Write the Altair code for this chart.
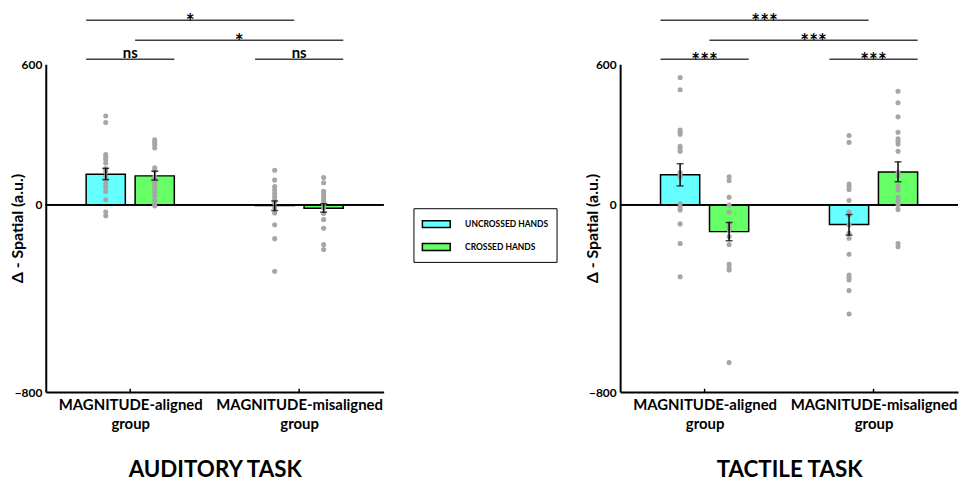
import altair as alt
import pandas as pd

# ---------------- data ----------------
GROUPS = ["MAGNITUDE-aligned group", "MAGNITUDE-misaligned group"]
CONDITIONS = ["UNCROSSED HANDS", "CROSSED HANDS"]
COLORS = ["#66FFFF", "#66FF66"]
TASKS = ["AUDITORY TASK", "TACTILE TASK"]
Y_TITLE = "Δ - Spatial (a.u.)"
Y_TICKS = [-800, 0, 600]

# cell order: aligned-uncrossed, aligned-crossed, misaligned-uncrossed, misaligned-crossed
CELL_GROUP = [0, 0, 1, 1]
CELL_COND = [0, 1, 0, 1]

aud_mean = [130, 123, -4, -15]
aud_lo = [107, 105, -25, -32]
aud_hi = [155, 143, 16, 4]

tac_mean = [128, -115, -85, 140]
tac_lo = [80, -154, -130, 98]
tac_hi = [175, -76, -42, 183]

aud_al_unc = [379, 351, 214, 203, 192, 178, 154, 141, 120, 104, 88, 74, 56, 21, -31, -47]
aud_al_cro = [277, 266, 256, 242, 158, 147, 119, 109, 95, 81, 67, 53, 37, 18, 4, -5]
aud_mis_unc = [147, 105, 77, 63, 49, 35, 21, 7, -13, -35, -86, -145, -284]
aud_mis_cro = [116, 94, 57, 46, 35, 24, 13, 2, -13, -38, -63, -101, -170, -191]

tac_al_unc = [543, 491, 319, 309, 301, 249, 239, 228, 137, 128, 119, 4, -13, -23, -82, -166, -308]
tac_al_cro = [119, 102, 32, -1, -31, -80, -94, -107, -136, -170, -254, -269, -279, -674]
tac_mis_unc = [295, 266, 88, 77, 65, 18, -31, -44, -86, -122, -143, -212, -300, -311, -321, -366, -467]
tac_mis_cro = [484, 435, 375, 309, 281, 270, 259, 228, 137, 123, 81, 63, 32, 16, -3, -21, -166, -180]

# significance brackets: from cell -> to cell, level (in y units), label
SIG_FROM = [0, 1, 0, 2]
SIG_TO = [2, 3, 1, 3]
SIG_LEVEL = [787, 702, 621, 621]
aud_sig = ["*", "*", "ns", "ns"]
tac_sig = ["***", "***", "***", "***"]

# ---------------- layout constants ----------------
OFF = 0.29    # bar centre offset from group centre (x units)
HALF = 0.232  # bar half width (x units)
W, H = 340, 330

label_parts = [g.rsplit(" ", 1) for g in GROUPS]
LABEL_EXPR = "datum.value == 1 ? ['%s','%s'] : ['%s','%s']" % (
    label_parts[0][0], label_parts[0][1], label_parts[1][0], label_parts[1][1])


def panel(task, mean, lo, hi, pts, sig, legend):
    rows = []
    for i in range(4):
        g, c = CELL_GROUP[i], CELL_COND[i]
        xc = 1 + 2 * g + (OFF if c else -OFF)
        rows.append(dict(cond=CONDITIONS[c], xc=xc, x0=xc - HALF, x1=xc + HALF,
                         mean=mean[i], lo=lo[i], hi=hi[i]))
    bars = pd.DataFrame(rows)
    pts_df = pd.DataFrame([dict(xc=rows[i]["xc"], v=v) for i in range(4) for v in pts[i]])
    sig_df = pd.DataFrame([dict(x0=rows[a]["x0"], x1=rows[b]["x1"],
                                xm=(rows[a]["x0"] + rows[b]["x1"]) / 2, lev=l, lab=t)
                           for a, b, l, t in zip(SIG_FROM, SIG_TO, SIG_LEVEL, sig)])
    tick_df = pd.DataFrame(dict(xg=[1, 3], y0=[-800, -800], y1=[-786, -786]))

    xscale = alt.Scale(domain=[0, 4], nice=False, zero=False)
    yscale = alt.Scale(domain=[-800, 600], nice=False, zero=False)
    xaxis = alt.Axis(values=[1, 3], labelExpr=LABEL_EXPR, ticks=False,
                     labelFontSize=15, labelLineHeight=19, labelPadding=6,
                     titleFontSize=22.5, titlePadding=27, labelAngle=0)
    yaxis = alt.Axis(values=Y_TICKS, ticks=False, labelFontSize=12, labelPadding=4,
                     titleFontSize=16, titleX=-20)

    def X(f):
        return alt.X(f, type="quantitative", scale=xscale, axis=xaxis, title=task)

    def Y(f):
        return alt.Y(f, type="quantitative", scale=yscale, axis=yaxis, title=Y_TITLE)

    if legend:
        leg = alt.Legend(orient="none", legendX=370, legendY=145, title=None,
                         strokeColor="black", fillColor="white", padding=8,
                         symbolType="M-1,-0.5H3V0.5H-1Z", symbolSize=196,
                         symbolStrokeColor="black", symbolStrokeWidth=1.5,
                         symbolOpacity=1, labelFont="Lato", labelFontWeight="bold",
                         labelFontSize=8.5, labelOffset=28, rowPadding=8)
    else:
        leg = None

    base_bars = alt.Chart(bars).mark_bar(stroke="black", strokeWidth=1.5, opacity=1).encode(
        x=X("x0"), x2="x1", y=Y("mean"), y2=alt.datum(0),
        color=alt.Color("cond:N", scale=alt.Scale(domain=CONDITIONS, range=COLORS), legend=leg),
    )
    zero = alt.Chart(bars).mark_rule(color="black", strokeWidth=1.5).encode(y=alt.datum(0))
    dots = alt.Chart(pts_df).mark_circle(size=26, color="#A6A6A6", opacity=1).encode(
        x=X("xc"), y=Y("v"))
    err = alt.Chart(bars).mark_rule(color="black", strokeWidth=1.5).encode(
        x=X("xc"), y=Y("lo"), y2="hi")
    caps = alt.Chart(bars).transform_fold(["lo", "hi"], as_=["end", "val"]).mark_tick(
        orient="horizontal", size=7, thickness=1.5, color="black").encode(
        x=X("xc"), y=Y("val"))
    ticks = alt.Chart(tick_df).mark_rule(color="black", strokeWidth=1.5).encode(
        x=X("xg"), y=Y("y0"), y2="y1")
    sig_lines = alt.Chart(sig_df).mark_rule(color="#404040", strokeWidth=1.5).encode(
        x=X("x0"), x2="x1", y=Y("lev"))
    stars = alt.Chart(sig_df).transform_filter("datum.lab != 'ns'").mark_text(
        font="Lato", fontWeight="bold", fontSize=21, baseline="alphabetic", dy=9, color="black").encode(
        x=X("xm"), y=Y("lev"), text="lab:N")
    ns = alt.Chart(sig_df).transform_filter("datum.lab == 'ns'").mark_text(
        font="Lato", fontWeight="bold", fontSize=15, baseline="alphabetic", dy=-1, color="black").encode(
        x=X("xm"), y=Y("lev"), text="lab:N")

    return alt.layer(base_bars, zero, dots, err, caps, ticks, sig_lines, stars, ns).properties(
        width=W, height=H)


left = panel(TASKS[0], aud_mean, aud_lo, aud_hi,
             [aud_al_unc, aud_al_cro, aud_mis_unc, aud_mis_cro], aud_sig, True)
right = panel(TASKS[1], tac_mean, tac_lo, tac_hi,
              [tac_al_unc, tac_al_cro, tac_mis_unc, tac_mis_cro], tac_sig, False)

chart = alt.hconcat(left, right, spacing=27).resolve_scale(color="independent").resolve_legend(
    color="independent").properties(
    padding={"left": 2, "top": 2, "right": 0, "bottom": 0}).configure(font="Lato").configure_view(
    stroke=None).configure_axis(
    grid=False, domainColor="black", domainWidth=2, labelFont="Lato", labelFontWeight="bold",
    labelColor="black", titleFont="Lato", titleFontWeight="bold", titleColor="black")

chart.save("out.html", embed_options={"renderer": "svg", "actions": False})
